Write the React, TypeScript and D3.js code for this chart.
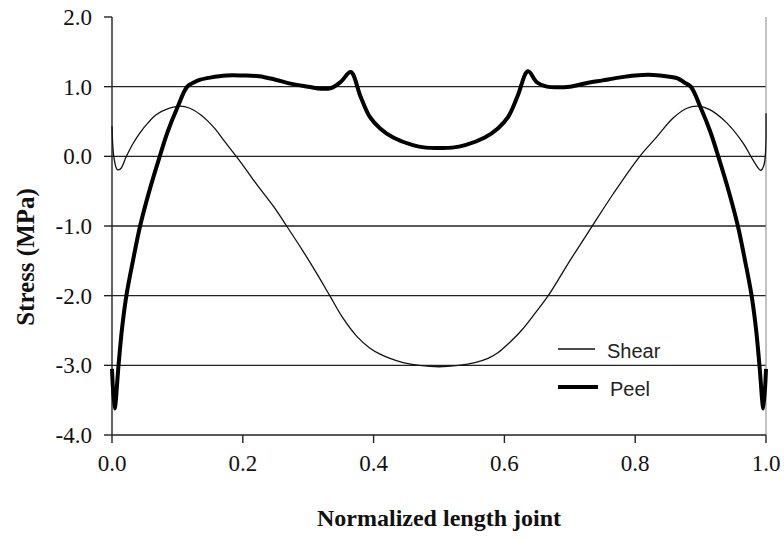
import React from "react";
import * as d3 from "d3";

const shearX = [0, 0.003, 0.008, 0.013, 0.022, 0.032, 0.043, 0.055, 0.068, 0.085, 0.104, 0.119, 0.135, 0.145, 0.158, 0.17, 0.19, 0.205, 0.221, 0.247, 0.267, 0.292, 0.313, 0.333, 0.353, 0.374, 0.394, 0.41, 0.425, 0.445, 0.47, 0.5, 0.53, 0.555, 0.575, 0.59, 0.606, 0.626, 0.647, 0.667, 0.7, 0.733, 0.767, 0.807, 0.833, 0.858, 0.879, 0.896, 0.914, 0.94, 0.965, 0.98, 0.992, 0.997, 1.0];
const shearY = [0.43, -0.02, -0.19, -0.18, 0.0, 0.18, 0.34, 0.48, 0.6, 0.68, 0.72, 0.69, 0.6, 0.52, 0.39, 0.24, 0.0, -0.19, -0.4, -0.72, -1.0, -1.36, -1.68, -2.0, -2.32, -2.58, -2.75, -2.84, -2.9, -2.96, -3.0, -3.02, -3.0, -2.96, -2.9, -2.82, -2.69, -2.5, -2.25, -2.0, -1.5, -1.02, -0.53, 0.0, 0.28, 0.55, 0.69, 0.72, 0.67, 0.48, 0.19, -0.05, -0.2, -0.12, 0.62];

const peelX = [0, 0.004, 0.01, 0.015, 0.022, 0.032, 0.043, 0.057, 0.073, 0.085, 0.1, 0.115, 0.125, 0.135, 0.15, 0.175, 0.2, 0.225, 0.25, 0.275, 0.3, 0.32, 0.335, 0.35, 0.365, 0.38, 0.394, 0.41, 0.43, 0.46, 0.48, 0.5, 0.52, 0.54, 0.57, 0.59, 0.606, 0.62, 0.636, 0.65, 0.665, 0.68, 0.7, 0.725, 0.75, 0.775, 0.8, 0.82, 0.838, 0.855, 0.865, 0.875, 0.885, 0.9, 0.915, 0.927, 0.943, 0.957, 0.968, 0.978, 0.985, 0.99, 0.996, 1.0];
const peelY = [-3.05, -3.62, -3.0, -2.5, -2.0, -1.5, -1.0, -0.5, 0.0, 0.35, 0.7, 1.0, 1.06, 1.1, 1.13, 1.16, 1.16, 1.15, 1.1, 1.04, 1.0, 0.97, 0.98, 1.07, 1.21, 0.86, 0.57, 0.4, 0.27, 0.16, 0.125, 0.12, 0.125, 0.16, 0.27, 0.4, 0.57, 0.86, 1.22, 1.06, 1.0, 0.99, 1.0, 1.05, 1.09, 1.13, 1.16, 1.17, 1.16, 1.14, 1.12, 1.06, 1.0, 0.7, 0.35, 0.0, -0.5, -1.0, -1.5, -2.0, -2.5, -3.0, -3.62, -3.05];

const xTicks = [0, 0.2, 0.4, 0.6, 0.8, 1.0];
const yTicks = [2, 1, 0, -1, -2, -3, -4];
const gridValues = [1, 0, -1, -2, -3];
const seriesNames = ["Shear", "Peel"];

export default function App() {
  const left = 112, right = 766, top = 17, bottom = 435;
  const x = d3.scaleLinear().domain([0, 1]).range([left, right]);
  const y = d3.scaleLinear().domain([-4, 2]).range([bottom, top]);
  const line = d3.line<[number, number]>().x((d) => x(d[0])).y((d) => y(d[1])).curve(d3.curveCatmullRom.alpha(0.5));
  const shear: [number, number][] = shearX.map((v, i) => [v, shearY[i]]);
  const peel: [number, number][] = peelX.map((v, i) => [v, peelY[i]]);
  const serif = "'Liberation Serif', 'Times New Roman', serif";
  const sans = "'Liberation Sans', Arial, sans-serif";

  return (
    <svg width={784} height={539} style={{ position: "absolute", left: 0, top: 0, background: "#fff" }}>
      <rect x={0} y={0} width={784} height={539} fill="#fff" />
      {gridValues.map((g) => (
        <line key={g} x1={left} x2={right} y1={y(g)} y2={y(g)} stroke="#222" strokeWidth={1.4} />
      ))}
      <line x1={right} x2={right} y1={top} y2={bottom} stroke="#999" strokeWidth={1.2} />
      <line x1={left} x2={left} y1={top} y2={bottom} stroke="#222" strokeWidth={1.4} />
      <line x1={left} x2={right} y1={bottom} y2={bottom} stroke="#222" strokeWidth={1.4} />
      {yTicks.map((t) => (
        <g key={t}>
          <line x1={left - 8} x2={left} y1={y(t)} y2={y(t)} stroke="#222" strokeWidth={1.4} />
          <text x={92} y={y(t) + 8} textAnchor="end" fontFamily={serif} fontSize={23} fill="#111">
            {t.toFixed(1)}
          </text>
        </g>
      ))}
      {xTicks.map((t) => (
        <g key={t}>
          <line x1={x(t)} x2={x(t)} y1={bottom} y2={bottom + 8} stroke="#222" strokeWidth={1.4} />
          <text x={x(t)} y={471} textAnchor="middle" fontFamily={serif} fontSize={23} fill="#111">
            {t.toFixed(1)}
          </text>
        </g>
      ))}
      <path d={line(shear) || ""} fill="none" stroke="#111" strokeWidth={1.3} strokeLinejoin="round" />
      <path d={line(peel) || ""} fill="none" stroke="#000" strokeWidth={4} strokeLinejoin="round" />
      <text x={439} y={526} textAnchor="middle" fontFamily={serif} fontWeight="bold" fontSize={24} fill="#111">
        Normalized length joint
      </text>
      <text transform={`translate(34,257) rotate(-90)`} textAnchor="middle" fontFamily={serif} fontWeight="bold" fontSize={25} fill="#111">
        Stress (MPa)
      </text>
      <line x1={558} x2={595} y1={349} y2={349} stroke="#111" strokeWidth={1.3} />
      <text x={607} y={358} fontFamily={sans} fontSize={20} fill="#222">{seriesNames[0]}</text>
      <line x1={558} x2={598} y1={387} y2={387} stroke="#000" strokeWidth={4} />
      <text x={610} y={396} fontFamily={sans} fontSize={20} fill="#222">{seriesNames[1]}</text>
    </svg>
  );
}
